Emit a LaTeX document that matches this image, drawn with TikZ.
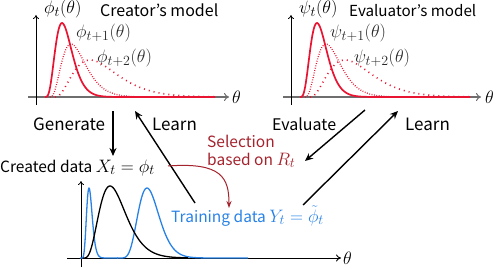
\RequirePackage{fix-cm}
\documentclass[tikz,border=0pt]{standalone}
\usepackage{fontspec}
\setmainfont{Noto Sans CJK JP}
\usetikzlibrary{arrows.meta}
\DeclareMathSizes{17}{18}{14}{11}
\DeclareMathSizes{16}{18}{14}{11}
\DeclareMathSizes{15.5}{18}{14}{11}
\definecolor{cred}{RGB}{232,20,50}
\definecolor{cblue}{RGB}{40,130,230}
\definecolor{cdred}{RGB}{165,35,45}
\definecolor{axgray}{RGB}{110,110,110}
\definecolor{lblgray}{RGB}{40,40,40}
\begin{document}
\begin{tikzpicture}[x=1pt,y=-1pt,
  declare function={gam(\u,\m,\k)=exp(\k*(ln(\u/\m)+1-\u/\m));},
  txt/.style={font=\fontsize{16}{20}\selectfont, inner sep=0pt, anchor=base west},
  bigtxt/.style={txt, font=\fontsize{17}{20}\selectfont},
  smalltxt/.style={txt, font=\fontsize{15.5}{19}\selectfont},
  mlbl/.style={font=\fontsize{17}{20}\selectfont, inner sep=0pt, anchor=base west, text=lblgray},
  yax/.style={line width=0.8pt, -{To[length=4pt,width=6pt]}},
  xaxg/.style={line width=1.8pt, draw=axgray, -{To[length=5pt,width=8pt,line width=1pt]}},
  xaxb/.style={line width=0.9pt, -{To[length=5pt,width=7pt]}},
  flow/.style={line width=1.4pt, -{Stealth[length=8pt,width=7pt]}},
  solidc/.style={cred, line width=1.7pt},
  dotone/.style={cred, line width=1.3pt, dash pattern=on 0.8pt off 1.6pt},
  dottwo/.style={cred, line width=1.6pt, dash pattern=on 1pt off 4pt},
  bluec/.style={cblue, line width=1.3pt},
  blackc/.style={black, line width=1.3pt},
]
\useasboundingbox (0,0) rectangle (498,270);

% ---------- top-left: creator's model
\coordinate (lyb) at (36,105); \coordinate (lyt) at (36,15);
\coordinate (lxl) at (28,97);  \coordinate (lxr) at (229,97);
\draw[xaxg] (lxl) -- (lxr);
\draw[yax] (lyb) -- (lyt);
\draw[dottwo] plot[domain=0.01:160,samples=160] ({55+\x},{97-37*gam(\x,35,2.5)});
\draw[dotone] plot[domain=0.01:165,samples=180] ({50+\x},{97-53*gam(\x,21,3)});
\draw[solidc] plot[domain=0.01:170,samples=200] ({45+\x},{97-74*gam(\x,17,4)});
\node[mlbl,text=black] (phit) at (44,14) {$\phi_t(\theta)$};
\node[txt] (creator) at (100,17) {Creator’s model};
\node[mlbl] (phione) at (76,38) {$\phi_{t+1}(\theta)$};
\node[mlbl] (phitwo) at (97,63) {$\phi_{t+2}(\theta)$};
\node[mlbl,text=black,anchor=west] (thl) at (232,97) {$\theta$};

% ---------- top-right: evaluator's model
\coordinate (ryb) at (291,105); \coordinate (ryt) at (291,15);
\coordinate (rxl) at (283,97);  \coordinate (rxr) at (481,97);
\draw[xaxg] (rxl) -- (rxr);
\draw[yax] (ryb) -- (ryt);
\draw[dottwo] plot[domain=0.01:160,samples=160] ({310+\x},{97-37*gam(\x,35,2.5)});
\draw[dotone] plot[domain=0.01:165,samples=180] ({305+\x},{97-53*gam(\x,21,3)});
\draw[solidc] plot[domain=0.01:170,samples=200] ({300+\x},{97-74*gam(\x,17,4)});
\node[mlbl,text=black] (psit) at (299,14) {$\psi_t(\theta)$};
\node[txt,font=\fontsize{15.2}{20}\selectfont] (evaluator) at (349,17) {Evaluator’s model};
\node[mlbl] (psione) at (330,38) {$\psi_{t+1}(\theta)$};
\node[mlbl] (psitwo) at (354,63) {$\psi_{t+2}(\theta)$};
\node[mlbl,text=black,anchor=west] (thr) at (485,97) {$\theta$};

% ---------- labels of the flows
\node[bigtxt] (generate) at (33,130) {Generate};
\node[bigtxt] (learnl) at (152,130) {Learn};
\node[txt] (evaluate) at (272,130) {Evaluate};
\node[bigtxt] (learnr) at (405,130) {Learn};
\node[smalltxt,text=cdred] (selA) at (207,147) {Selection};
\node[smalltxt,text=cdred] (selB) at (207,165) {based on $R_t$};
\node[smalltxt] (created) at (0,172) {Created data $X_t=\phi_t$};
\node[smalltxt,text=cblue] (training) at (171,222) {Training data $Y_t=\tilde{\phi}_t$};

% ---------- flow arrows
\coordinate (genA) at (113,111); \coordinate (genB) at (113,156);
\coordinate (lrnA) at (195,203); \coordinate (lrnB) at (135,111);
\coordinate (evA) at (365,110);  \coordinate (evB) at (305,161);
\coordinate (lrrA) at (303,205); \coordinate (lrrB) at (398,111);
\draw[flow] (genA) -- (genB);
\draw[flow] (lrnA) -- (lrnB);
\draw[flow] (evA) -- (evB);
\draw[flow] (lrrA) -- (lrrB);
\coordinate (selS) at (168,166); \coordinate (selE) at (229,208);
\draw[cdred, line width=1pt, -{Stealth[length=7pt,width=5pt]}]
  (selS) .. controls (222,162) and (229,178) .. (selE);

% ---------- bottom: data distributions
\coordinate (byb) at (81,267); \coordinate (byt) at (81,181);
\coordinate (bxl) at (67,258); \coordinate (bxr) at (341,258);
\draw[xaxb] (bxl) -- (bxr);
\draw[yax] (byb) -- (byt);
\draw[bluec] plot[domain=0.01:131,samples=200] ({117+\x},{258-70*gam(\x,30,8)});
\draw[bluec] plot[domain=0.01:38,samples=120] ({80+\x},{258-70*gam(\x,9,10)});
\draw[blackc] plot[domain=0.01:105,samples=200] ({83+\x},{258-72*gam(\x,27,4)});
\node[mlbl,text=black,anchor=west] (thb) at (343,258) {$\theta$};
\end{tikzpicture}
\end{document}
